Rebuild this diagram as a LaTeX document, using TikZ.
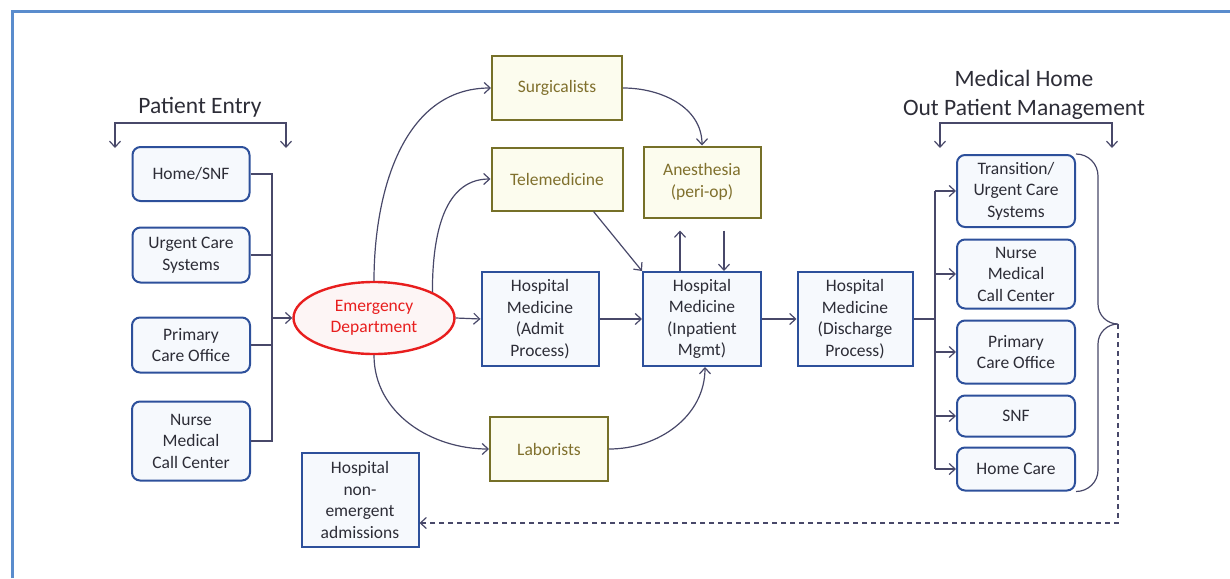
\documentclass[tikz,border=0pt]{standalone}
\usepackage{fontspec}
\setmainfont{Carlito}
\usetikzlibrary{arrows.meta,shapes.geometric,calc}
\definecolor{linec}{RGB}{72,72,105}
\definecolor{boxb}{RGB}{45,80,155}
\definecolor{boxf}{RGB}{246,249,253}
\definecolor{olb}{RGB}{118,112,40}
\definecolor{olf}{RGB}{252,252,238}
\definecolor{olt}{RGB}{128,112,45}
\definecolor{txt}{RGB}{45,45,55}
\definecolor{edred}{RGB}{232,30,30}
\definecolor{edfill}{RGB}{253,245,245}
\definecolor{frame}{RGB}{90,140,205}
\tikzset{
  line/.style={draw=linec, line width=1.2pt},
  arr/.style={line, -{Straight Barb[length=6pt,width=11pt]}},
  bfont/.style={font=\fontsize{17.5}{21.5}\selectfont},
  rbox/.style={draw=boxb, fill=boxf, line width=2pt, rounded corners=8pt, align=center, text=txt, inner sep=0pt, bfont},
  sbox/.style={draw=boxb, fill=boxf, line width=2pt, align=center, text=txt, inner sep=0pt, bfont},
  obox/.style={draw=olb, fill=olf, line width=2pt, align=center, text=olt, inner sep=0pt, bfont},
  title/.style={text=txt, align=center, font=\fontsize{23.5}{29.5}\selectfont},
}
\begin{document}
\begin{tikzpicture}[x=1pt,y=-1pt]
\useasboundingbox (0,0) rectangle (1230,578);
\draw[frame, line width=3pt] (12,578) -- (12,12) -- (1230,12);

% left entry boxes
\node[rbox, minimum width=117pt, minimum height=54pt] (l1) at (191,174) {Home/SNF};
\node[rbox, minimum width=117pt, minimum height=55pt] (l2) at (191,255) {Urgent Care\\Systems};
\node[rbox, minimum width=118pt, minimum height=55pt] (l3) at (191,345) {Primary\\Care Office};
\node[rbox, minimum width=118pt, minimum height=79pt] (l4) at (191,441) {Nurse\\Medical\\Call Center};

\node[title] (pe) at (200,107) {Patient Entry};
\coordinate (pea1) at (115,148);
\coordinate (pebl) at (115,123);
\coordinate (pebr) at (286,123);
\coordinate (pea2) at (286,148);
\draw[line, {Straight Barb[length=6pt,width=11pt]}-{Straight Barb[length=6pt,width=11pt]}] (pea1) -- (pebl) -- (pebr) -- (pea2);

% ED
\node[ellipse, draw=edred, fill=edfill, line width=2.4pt, minimum width=161pt, minimum height=72pt, inner sep=0pt, text=edred, align=center, bfont] (ed) at (374,318) {Emergency\\Department};

\coordinate (lb) at (272,0);
\draw[line] (l1.east) -- (l1.east -| lb) -- (l4.east -| lb) -- (l4.east);
\draw[line] (l2.east) -- (l2.east -| lb);
\draw[line] (l3.east) -- (l3.east -| lb);
\draw[arr] (ed.west -| lb) -- (ed.west);

% olive boxes
\node[obox, minimum width=130pt, minimum height=64pt] (sur) at (557,88) {Surgicalists};
\node[obox, minimum width=131pt, minimum height=63pt] (tel) at (557,179) {Telemedicine};
\node[obox, minimum width=117pt, minimum height=71pt] (ane) at (702,182) {Anesthesia\\(peri-op)};
\node[obox, minimum width=118pt, minimum height=64pt] (lab) at (549,449) {Laborists};

% hospital medicine
\node[sbox, minimum width=117pt, minimum height=94pt] (adm) at (540,319) {Hospital\\Medicine\\(Admit\\Process)};
\node[sbox, minimum width=118pt, minimum height=94pt] (inp) at (702,319) {Hospital\\Medicine\\(Inpatient\\Mgmt)};
\node[sbox, minimum width=115pt, minimum height=94pt] (dis) at (855,319) {Hospital\\Medicine\\(Discharge\\Process)};
\node[sbox, minimum width=117pt, minimum height=94pt] (ne) at (360,500) {Hospital\\non-\\emergent\\admissions};

% right boxes
\node[rbox, minimum width=118pt, minimum height=72pt] (r1) at (1016,191) {Transition/\\Urgent Care\\Systems};
\node[rbox, minimum width=118pt, minimum height=69pt] (r2) at (1016,274) {Nurse\\Medical\\Call Center};
\node[rbox, minimum width=118pt, minimum height=63pt] (r3) at (1016,352) {Primary\\Care Office};
\node[rbox, minimum width=118pt, minimum height=41pt] (r4) at (1016,416) {SNF};
\node[rbox, minimum width=118pt, minimum height=43pt] (r5) at (1016,469) {Home Care};

\node[title] (mh) at (1024,95) {Medical Home\\Out Patient Management};
\coordinate (mha1) at (940,148);
\coordinate (mhbl) at (940,123);
\coordinate (mhbr) at (1112,123);
\coordinate (mha2) at (1112,148);
\draw[line, {Straight Barb[length=6pt,width=11pt]}-{Straight Barb[length=6pt,width=11pt]}] (mha1) -- (mhbl) -- (mhbr) -- (mha2);

% flow arrows
\draw[arr] (ed.north) to[out=90,in=180] (sur.west);
\draw[arr] (ed.24) to[out=90,in=180] (tel.west);
\draw[arr] (ed.east) -- (adm.west);
\draw[arr] (ed.south) to[out=-90,in=180] (lab.west);
\draw[arr] (lab.east) to[out=0,in=-90] ([xshift=3pt]inp.south);
\draw[arr] (sur.east) to[out=0,in=90] (ane.north);
\draw[arr] ([xshift=-30pt]tel.south east) -- (inp.north west);
\draw[arr, shorten >=12pt] ([xshift=-22pt]inp.north) -- ([xshift=-22pt]ane.south);
\draw[arr, shorten <=12pt] ([xshift=22pt]ane.south) -- ([xshift=22pt]inp.north);
\draw[arr] (adm.east) -- (inp.west);
\draw[arr] (inp.east) -- (dis.west);

% discharge bus
\coordinate (rb) at (935,0);
\draw[line] (dis.east) -- (dis.east -| rb);
\draw[line] (r1.west -| rb) -- (r5.west -| rb);
\foreach \n in {r1,r2,r3,r4,r5} \draw[arr] (\n.west -| rb) -- (\n.west);

% brace and dashed return
\coordinate (tip) at (1118,324);
\draw[line] (r1.north east) to[out=0,in=90] (1098,176) -- (1098,304) to[out=-90,in=180] (tip)
  to[out=180,in=90] (1098,344) -- (1098,470) to[out=-90,in=0] (r5.south east);
\coordinate (dc) at (1118,523);
\draw[arr, dash pattern=on 5pt off 4pt] (tip) -- (dc) -- (dc -| ne.east);
\end{tikzpicture}
\end{document}
